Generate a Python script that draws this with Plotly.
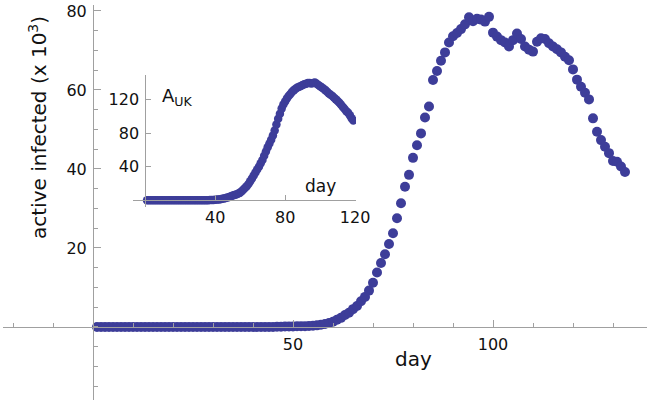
"""Active infected vs day, with a UK inset — Mathematica-style crossing axes."""
import plotly.graph_objects as go

DOT = "#3d3d99"       # Mathematica default series colour
AXIS = "#a0a0a0"
FONT = "DejaVu Sans"

# main series: days 1..133, active infected in thousands
days = list(range(1, 134))
active = (
    [0.0] * 45
    + [0.05, 0.05, 0.1, 0.1, 0.1, 0.15, 0.2, 0.2, 0.25]                     # 46-54
    + [0.3, 0.4, 0.55, 0.75, 1.0, 1.3, 1.8, 2.3, 3.0, 3.6]                  # 55-64
    + [4.5, 5.3, 6.5, 7.6, 9.2, 11.2, 13.8, 16.2, 18.4, 21.0]               # 65-74
    + [23.7, 27.5, 31.3, 35.5, 38.5, 42.8, 46.0, 49.0, 53.0, 55.8]          # 75-84
    + [62.5, 64.8, 67.4, 69.5, 72.0, 73.6, 74.4, 75.4, 76.6, 78.4]          # 85-94
    + [77.4, 78.0, 77.8, 77.3, 78.5, 74.5, 73.5, 72.6, 72.0, 71.0]          # 95-104
    + [72.6, 74.3, 72.9, 71.0, 70.2, 69.7, 72.2, 73.1, 72.9, 71.8]          # 105-114
    + [71.0, 70.3, 69.5, 68.4, 67.5, 65.2, 62.6, 60.8, 59.3, 57.6]          # 115-124
    + [52.8, 49.4, 47.3, 45.6, 44.0, 42.0, 41.8, 40.6, 39.2]                # 125-133
)

# inset: UK, days 1..119
uk_days = list(range(1, 120))
uk_active = (
    [0.0] * 35
    + [0.1, 0.2, 0.3, 0.4, 0.6, 0.8, 1.0, 1.3, 1.7]                         # 36-44
    + [2.2, 2.8, 3.4, 4.0, 4.8, 5.6, 6.3, 7.0, 7.8, 8.8]                    # 45-54
    + [10.5, 12.5, 14.5, 16.8, 19.5, 22.5, 26, 29.5, 33, 36.5]              # 55-64
    + [40, 44, 48, 53, 58, 63, 67.5, 72, 77, 83]                            # 65-74
    + [90, 97, 103, 109, 114, 117.5, 121, 124, 126.5, 129]                  # 75-84
    + [131, 132.5, 134, 135, 136, 137, 138, 138.5, 139.5, 139.5]            # 85-94
    + [139, 139.5, 140, 138.5, 137, 135.5, 134, 132.5, 131, 129]            # 95-104
    + [127, 125.5, 124, 122, 120, 118, 116, 113.5, 111, 108.5]              # 105-114
    + [106, 104, 101, 97.5, 95]                                             # 115-119
)

X_RANGE = [-22.5, 138.5]
Y_RANGE = [-18.5, 81.5]
UK_X_RANGE = [-7, 120.5]
UK_Y_RANGE = [-8, 149]
UK_DOM_X = [0.2019, 0.5481]
UK_DOM_Y = [0.4886, 0.8228]


def _zero_pos(rng, dom=(0.0, 1.0)):
    return dom[0] + (0 - rng[0]) / (rng[1] - rng[0]) * (dom[1] - dom[0])


fig = go.Figure()
fig.add_trace(go.Scatter(x=days, y=active, mode="markers",
                         marker=dict(size=10, color=DOT), showlegend=False))
fig.add_trace(go.Scatter(x=uk_days, y=uk_active, mode="markers", xaxis="x2", yaxis="y2",
                         marker=dict(size=8.5, color=DOT), showlegend=False))

tick_font = dict(family=FONT, size=16, color="#111")
common = dict(showgrid=False, zeroline=False, showline=True, linecolor=AXIS, linewidth=1,
              ticks="inside", tickcolor=AXIS, tickwidth=1, tickfont=tick_font,
              anchor="free", tickmode="array", automargin=False)

fig.update_layout(
    width=650, height=404, plot_bgcolor="white", paper_bgcolor="white",
    margin=dict(l=3, r=3, t=5, b=4),
    xaxis=dict(range=X_RANGE, domain=[0, 1], position=_zero_pos(Y_RANGE),
               tickvals=[50, 100], ticklen=7, ticklabelstandoff=3,
               minor=dict(dtick=10, tick0=0, ticks="inside", ticklen=4, tickcolor=AXIS),
               **common),
    yaxis=dict(range=Y_RANGE, domain=[0, 1], position=_zero_pos(X_RANGE),
               tickvals=[20, 40, 60, 80], ticklen=7, ticklabelstandoff=3,
               minor=dict(dtick=5, tick0=0, ticks="inside", ticklen=4, tickcolor=AXIS),
               **common),
    xaxis2=dict(range=UK_X_RANGE, domain=UK_DOM_X, position=_zero_pos(UK_Y_RANGE, UK_DOM_Y),
                tickvals=[40, 80, 120], ticklen=5, ticklabelstandoff=3, **common),
    yaxis2=dict(range=UK_Y_RANGE, domain=UK_DOM_Y, position=_zero_pos(UK_X_RANGE, UK_DOM_X),
                tickvals=[40, 80, 120], ticklen=5, ticklabelstandoff=3, **common),
)

label_font = dict(family=FONT, color="#111")
fig.add_annotation(text="active infected (x 10<sup>3</sup>)", textangle=-90,
                   x=38, y=128, font=dict(size=20, **label_font))
fig.add_annotation(text="day", x=413, y=359, font=dict(size=20, **label_font))
fig.add_annotation(text="day", x=320, y=186, font=dict(size=17, **label_font))
fig.add_annotation(text="A<sub>UK</sub>", x=177, y=97, font=dict(size=18, **label_font))

# annotations above are given in pixels; convert to paper fractions of the plot area
for a in fig.layout.annotations:
    a.update(xref="paper", yref="paper", xanchor="center", yanchor="middle",
             showarrow=False, x=(a.x - 3) / 644, y=(400 - a.y) / 395)

# drop the browser's default body margin so the figure sits at the page origin
fig.write_html("out.html", config={"displayModeBar": False},
               post_script="document.body.style.margin='0';")
